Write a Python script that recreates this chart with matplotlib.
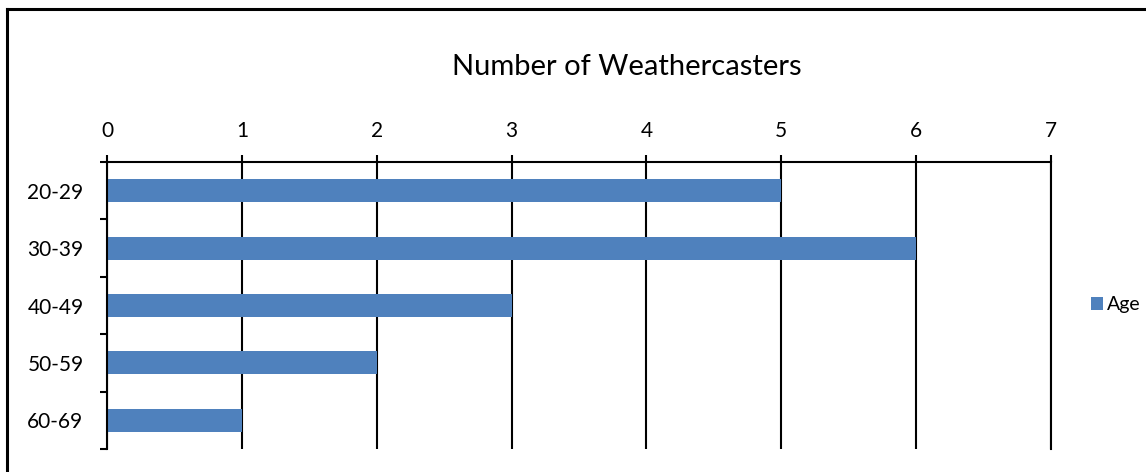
import matplotlib.pyplot as plt
import numpy as np
from matplotlib.lines import Line2D

age_groups = ['20-29', '30-39', '40-49', '50-59', '60-69']
counts = [5, 6, 3, 2, 1]
x_ticks = [0, 1, 2, 3, 4, 5, 6, 7]

plt.rcParams['font.family'] = ['Lato', 'DejaVu Sans']

fig = plt.figure(figsize=(11.46, 4.72), dpi=100)
ax = fig.add_axes([0.0934, 0.0487, 0.8237, 0.6081])

y = np.arange(len(age_groups))
ax.barh(y, counts, height=0.4, color='#4F81BD', label='Age', zorder=2)

ax.set_xlim(0, 7)
ax.set_ylim(len(age_groups) - 0.5, -0.5)
ax.set_xticks(x_ticks)
ax.xaxis.tick_top()
ax.tick_params(axis='x', direction='out', length=5, width=1.5, pad=10,
               labelsize=15, colors='black')
ax.set_yticks(y)
ax.set_yticklabels(age_groups)
ax.set_yticks(np.arange(-0.5, len(age_groups)), minor=True)
ax.tick_params(axis='y', which='major', length=0, pad=17, labelsize=15)
ax.tick_params(axis='y', which='minor', direction='out', length=5, width=1.5)

ax.grid(axis='x', color='black', linewidth=1.5)
ax.set_axisbelow(True)
for side in ['bottom', 'right']:
    ax.spines[side].set_visible(False)
for side in ['top', 'left']:
    ax.spines[side].set_linewidth(1.5)
ax.axvline(7, color='black', linewidth=1.5, clip_on=False)

fig.text(0.547, 0.858, 'Number of Weathercasters', ha='center', va='center',
         fontsize=21)

fig.legend(loc='center left', bbox_to_anchor=(0.952, 0.354), frameon=False,
           handlelength=0.6, handleheight=0.6, handletextpad=0.2,
           fontsize=14, borderaxespad=0, borderpad=0)

# outer frame of the chart area
fig.add_artist(Line2D([7 / 1146, 7 / 1146], [0, 1 - 9 / 472], color='black',
                      linewidth=2.2, transform=fig.transFigure))
fig.add_artist(Line2D([7 / 1146, 1], [1 - 9 / 472, 1 - 9 / 472], color='black',
                      linewidth=2.2, transform=fig.transFigure))

fig.savefig('out.png', dpi=100)
